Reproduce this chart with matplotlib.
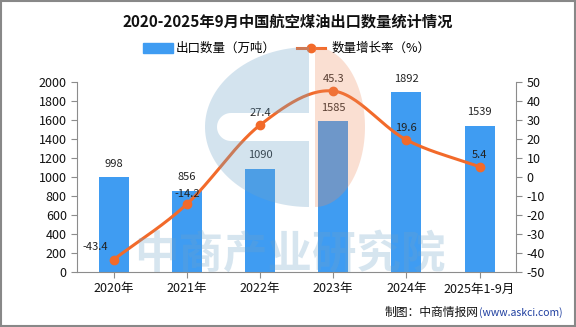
import numpy as np
import matplotlib.pyplot as plt
from matplotlib.patches import Rectangle, Polygon

plt.rcParams['font.family'] = ['Noto Sans CJK SC', 'DejaVu Sans']
plt.rcParams['axes.unicode_minus'] = False

years = ["2020年", "2021年", "2022年", "2023年", "2024年", "2025年1-9月"]
volume = [998, 856, 1090, 1585, 1892, 1539]
growth = [-43.4, -14.2, 27.4, 45.3, 19.6, 5.4]

bar_color = "#3f9cf2"
line_color = "#f26a2a"
axis_gray = "#8c8c8c"

fig = plt.figure(figsize=(5.76, 3.27), dpi=100)
ax = fig.add_axes([0.134, 0.168, 0.762, 0.581])
ax2 = ax.twinx()

x = np.arange(len(years))
ax.bar(x, volume, width=0.41, color=bar_color, zorder=2)
ax.set_xlim(-0.5, len(years) - 0.5)
ax.set_ylim(0, 2000)
ax.set_yticks(range(0, 2001, 200))
ax.set_xticks(x)
ax.set_xticklabels(years, fontsize=8)

for xi, v in zip(x, volume):
    ax.text(xi, v + 90, str(v), ha="center", va="bottom", fontsize=8, color="#222222")


# smooth curve through the growth points (Catmull-Rom)
def catmull_rom(px, py, n=30):
    px = np.asarray(px, float)
    py = np.asarray(py, float)
    gx = np.concatenate([[2 * px[0] - px[1]], px, [2 * px[-1] - px[-2]]])
    gy = np.concatenate([[2 * py[0] - py[1]], py, [2 * py[-1] - py[-2]]])
    xs, ys = [], []
    for i in range(1, len(gx) - 2):
        t = np.linspace(0, 1, n)
        for g, out in ((gx, xs), (gy, ys)):
            p0, p1, p2, p3 = g[i - 1], g[i], g[i + 1], g[i + 2]
            out.extend(0.5 * ((2 * p1) + (-p0 + p2) * t
                              + (2 * p0 - 5 * p1 + 4 * p2 - p3) * t ** 2
                              + (-p0 + 3 * p1 - 3 * p2 + p3) * t ** 3))
    return np.array(xs), np.array(ys)


sx, sy = catmull_rom(x, growth)
ax2.plot(sx, sy, color=line_color, lw=2.2, zorder=3)
ax2.plot(x, growth, "o", color=line_color, ms=6, zorder=4)
ax2.set_ylim(-50, 50)
ax2.set_yticks(range(-50, 51, 10))

label_offsets = [(-0.25, 4), (0.0, 2.5), (0.0, 3.5), (0.0, 3.5), (0.0, 3.5), (0.0, 3.5)]
for xi, g, (dx, dy) in zip(x, growth, label_offsets):
    ax2.text(xi + dx, g + dy, f"{g}", ha="center", va="bottom", fontsize=8, color="#222222")

for a in (ax, ax2):
    a.spines["top"].set_visible(False)
    for s in ("left", "right", "bottom"):
        a.spines[s].set_color(axis_gray)
    a.tick_params(colors="#111111", labelsize=9, length=4, width=0.8)
    a.tick_params(axis="both", color=axis_gray)
ax.spines["right"].set_visible(False)
ax2.spines["left"].set_visible(False)
ax2.spines["bottom"].set_visible(False)

# translucent logo + name watermark laid over the plot (pixel coordinates)
wm = fig.add_axes([0, 0, 1, 1], zorder=10)
wm.set_xlim(0, 576)
wm.set_ylim(327, 0)
wm.axis("off")
wm.patch.set_alpha(0)

cx, cy = 311, 127
t = np.linspace(np.pi / 2, 3 * np.pi / 2, 80)
outer = np.column_stack([cx - 2 + 104 * np.cos(t), cy - 80 * np.sin(t)])
# slot with a rounded left end cut into the blue half
ts = np.linspace(3 * np.pi / 2, np.pi / 2, 30)
slot_end = np.column_stack([cx - 80 + 14 * np.cos(ts), cy - 14 * np.sin(ts)])
c_shape = np.vstack([outer,
                     [[cx - 2, cy + 80], [cx - 2, cy + 14]],
                     slot_end,
                     [[cx - 2, cy - 14], [cx - 2, cy - 80]]])
wm.add_patch(Polygon(c_shape, closed=True, color="#6fa3c8", alpha=0.3, lw=0))

tr = np.linspace(-np.pi / 2, np.pi / 2, 60)
d_shape = np.column_stack([cx + 4 + 50 * np.cos(tr), cy - 80 * np.sin(tr)])
wm.add_patch(Polygon(d_shape, closed=True, color="#ee8a5c", alpha=0.27, lw=0))

wm.text(290, 254, "中商产业研究院", ha="center", va="center", fontsize=32,
        color="#6fa3c8", alpha=0.28, fontweight="bold")

fig.text(0.5, 0.935, "2020-2025年9月中国航空煤油出口数量统计情况", ha="center", va="center",
         fontsize=11, fontweight="bold", color="#111111")

# legend row
fig.patches.append(Rectangle((0.248, 0.838), 0.052, 0.03, transform=fig.transFigure,
                             color=bar_color))
fig.text(0.305, 0.853, "出口数量（万吨）", ha="left", va="center", fontsize=9)
fig.lines.append(plt.Line2D([0.515, 0.565], [0.853, 0.853], transform=fig.transFigure,
                            color=line_color, lw=2.2))
fig.lines.append(plt.Line2D([0.54], [0.853], transform=fig.transFigure, marker="o",
                            ms=6, color=line_color))
fig.text(0.575, 0.853, "数量增长率（%）", ha="left", va="center", fontsize=9)

fig.text(0.83, 0.045, "制图：中商情报网", ha="right", va="center", fontsize=8.5,
         color="#111111")
fig.text(0.832, 0.045, "(www.askci.com)", ha="left", va="center", fontsize=7.5,
         color="#1f3fa0")

fig.patches.append(Rectangle((0.001, 0.002), 0.997, 0.995, transform=fig.transFigure,
                             fill=False, edgecolor="#888888", lw=1.5))

fig.savefig("out.png", dpi=100)
